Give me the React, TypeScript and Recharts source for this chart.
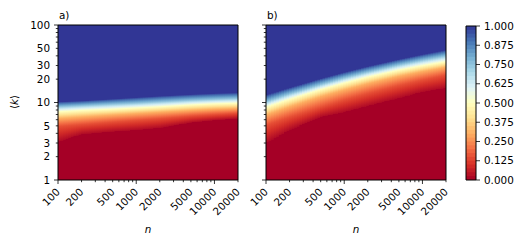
import React from 'react';
import { ComposedChart, XAxis, YAxis, ReferenceArea } from 'recharts';

const nAnchors = [100, 200, 500, 1000, 2000, 5000, 10000, 20000];
// fraction level of each curve (rows of the kLevels tables)
const levelValues = [0.02, 0.15, 0.3, 0.5, 0.75, 0.98];

// panel a): <k> where the fraction reaches each level, per n anchor
const kLevelsA = [
  [3.1, 3.9, 4.2, 4.4, 4.7, 5.5, 5.9, 6.2],
  [4.9, 5.2, 5.6, 5.9, 6.2, 6.7, 7.0, 7.3],
  [6.2, 6.5, 6.9, 7.2, 7.5, 7.9, 8.2, 8.4],
  [7.6, 7.9, 8.2, 8.5, 8.8, 9.3, 9.6, 9.8],
  [8.8, 9.1, 9.5, 9.8, 10.2, 10.7, 11.0, 11.3],
  [10.2, 10.5, 11.1, 11.6, 12.1, 12.7, 13.1, 13.4],
];

// panel b)
const kLevelsB = [
  [3.0, 4.4, 6.5, 7.5, 9.0, 11.4, 13.7, 15.4],
  [5.1, 6.5, 8.7, 10.8, 13.1, 16.6, 19.5, 22.6],
  [6.9, 8.8, 11.9, 14.5, 17.5, 21.8, 25.1, 28.5],
  [8.7, 11.0, 14.7, 17.8, 21.3, 26.2, 29.9, 33.6],
  [10.2, 12.9, 17.0, 20.7, 24.7, 30.5, 35.1, 39.8],
  [12.5, 15.5, 20.3, 24.5, 29.2, 36.0, 41.6, 47.6],
];

const nTicks = [100, 200, 300, 400, 500, 600, 700, 800, 900, 1000, 2000, 3000, 4000, 5000, 6000, 7000, 8000, 9000, 10000, 20000];
const nLabels = [100, 200, 500, 1000, 2000, 5000, 10000, 20000];
const kTicks = [1, 2, 3, 4, 5, 6, 7, 8, 9, 10, 20, 30, 40, 50, 60, 70, 80, 90, 100];
const kLabels = [1, 2, 3, 5, 10, 20, 30, 50, 100];
const cbarTicks = [0, 0.125, 0.25, 0.375, 0.5, 0.625, 0.75, 0.875, 1];

const rdylbu = ['#a50026', '#d73027', '#f46d43', '#fdae61', '#fee090', '#ffffbf', '#e0f3f8', '#abd9e9', '#74add1', '#4575b4', '#313695'];

const FONT = '"DejaVu Sans", sans-serif';
const FS = 10.4;
const COLS = 70;
const CBAR_BANDS = 40;

const hexToRgb = (h: string) => [1, 3, 5].map((i) => parseInt(h.slice(i, i + 2), 16));

function cmap(v: number) {
  const t = Math.max(0, Math.min(1, v)) * (rdylbu.length - 1);
  const i = Math.min(Math.floor(t), rdylbu.length - 2);
  const f = t - i;
  const a = hexToRgb(rdylbu[i]);
  const b = hexToRgb(rdylbu[i + 1]);
  const c = a.map((x, j) => Math.round(x + (b[j] - x) * f));
  return `rgb(${c[0]},${c[1]},${c[2]})`;
}

// log k of every level curve at a given log n (linear between anchors, in log-log)
function curvesAt(levels: number[][], logN: number) {
  const ln = nAnchors.map(Math.log10);
  let i = 0;
  while (i < ln.length - 2 && logN > ln[i + 1]) i++;
  const f = (logN - ln[i]) / (ln[i + 1] - ln[i]);
  return levels.map((row) => {
    const a = Math.log10(row[i]);
    const b = Math.log10(row[i + 1]);
    return a + (b - a) * f;
  });
}

function buildColumns(levels: number[][], id: string) {
  const lo = Math.log10(nAnchors[0]);
  const hi = Math.log10(nAnchors[nAnchors.length - 1]);
  const step = (hi - lo) / COLS;
  const cols = [];
  for (let c = 0; c < COLS; c++) {
    const b0 = lo + c * step;
    const b1 = b0 + step;
    const lk = curvesAt(levels, (b0 + b1) / 2);
    // (value, log k) pairs from the top of the panel down
    const pts: [number, number][] = [[1, 2], [1, lk[lk.length - 1]]];
    for (let j = lk.length - 1; j > 0; j--) {
      const va = levelValues[j], vb = levelValues[j - 1];
      for (let s = 1; s <= 4; s++) {
        const f = s / 4;
        pts.push([va + (vb - va) * f, lk[j] + (lk[j - 1] - lk[j]) * f]);
      }
    }
    pts.push([0, lk[0]], [0, 0]);
    cols.push({
      id: `${id}-${c}`,
      x1: Math.pow(10, b0),
      x2: Math.pow(10, c < COLS - 1 ? b1 + step * 0.4 : b1),
      stops: pts.map(([v, l]) => ({ offset: Math.max(0, Math.min(1, 1 - l / 2)), color: cmap(v) })),
    });
  }
  return cols;
}

const isDecade = (v: number) => Math.abs(Math.log10(v) - Math.round(Math.log10(v))) < 1e-9;

const XTick = (props: any) => {
  const { x, y, payload } = props;
  const v = payload.value;
  const len = isDecade(v) ? 4 : 2.2;
  const px = x - 3;
  const py = y + 7;
  return (
    <g>
      <line x1={x} y1={y} x2={x} y2={y + len} stroke="#000" strokeWidth={0.8} />
      {nLabels.includes(v) && (
        <text x={px} y={py} transform={`rotate(-45 ${px} ${py})`} textAnchor="end" dominantBaseline="hanging"
          fontFamily={FONT} fontSize={FS} fill="#000">{v}</text>
      )}
    </g>
  );
};

const makeYTick = (showLabels: boolean) => (props: any) => {
  const { x, y, payload } = props;
  const v = payload.value;
  const len = isDecade(v) ? 4 : 2.2;
  return (
    <g>
      <line x1={x - len} y1={y} x2={x} y2={y} stroke="#000" strokeWidth={0.8} />
      {showLabels && kLabels.includes(v) && (
        <text x={x - 8} y={y} dy="0.36em" textAnchor="end" fontFamily={FONT} fontSize={FS} fill="#000">{v}</text>
      )}
    </g>
  );
};

const CbarTick = (props: any) => {
  const { x, y, payload } = props;
  return (
    <g>
      <line x1={x} y1={y} x2={x + 4} y2={y} stroke="#000" strokeWidth={0.8} />
      <text x={x + 8} y={y} dy="0.36em" textAnchor="start" fontFamily={FONT} fontSize={FS} fill="#000">
        {Number(payload.value).toFixed(3)}
      </text>
    </g>
  );
};

interface PanelProps {
  id: string;
  title: string;
  levels: number[][];
  width: number;
  marginLeft: number;
  yWidth: number;
  showYLabels: boolean;
}

const Panel = ({ id, title, levels, width, marginLeft, yWidth, showYLabels }: PanelProps) => {
  const cols = buildColumns(levels, id);
  const plotLeft = marginLeft + yWidth;
  return (
    <ComposedChart width={width} height={244} margin={{ top: 25, right: width - plotLeft - 180, bottom: 24, left: marginLeft }}>
      <defs>
        {cols.map((c) => (
          <linearGradient key={c.id} id={c.id} x1="0" y1="0" x2="0" y2="1">
            {c.stops.map((s, i) => (
              <stop key={i} offset={s.offset} stopColor={s.color} />
            ))}
          </linearGradient>
        ))}
      </defs>
      <XAxis type="number" dataKey="n" scale="log" domain={[100, 20000]} allowDataOverflow ticks={nTicks} interval={0}
        height={40} tickSize={0} tickMargin={0} tickLine={false} axisLine={false} tick={<XTick />} />
      <YAxis type="number" dataKey="k" scale="log" domain={[1, 100]} allowDataOverflow ticks={kTicks} interval={0}
        width={yWidth} tickSize={0} tickMargin={0} tickLine={false} axisLine={false} tick={makeYTick(showYLabels)} />
      {cols.map((c) => (
        <ReferenceArea key={c.id} x1={c.x1} x2={c.x2} y1={1} y2={100} fill={`url(#${c.id})`} fillOpacity={1}
          stroke="none" />
      ))}
      <ReferenceArea x1={100} x2={20000} y1={1} y2={100} fill="none" stroke="#000" strokeWidth={1} />
      <text x={plotLeft + 1} y={19} fontFamily={FONT} fontSize={FS} fill="#000">{title}</text>
      <text x={plotLeft + 90} y={233} textAnchor="middle" fontFamily={FONT} fontSize={FS} fontStyle="italic" fill="#000">n</text>
      {showYLabels && (
        <text x={18} y={102} transform="rotate(-90 18 102)" textAnchor="middle" fontFamily={FONT} fontSize={FS} fill="#000">
          ⟨<tspan fontStyle="italic">k</tspan>⟩
        </text>
      )}
    </ComposedChart>
  );
};

const Colorbar = () => {
  const bands = Array.from({ length: CBAR_BANDS }, (_, i) => i);
  return (
    <ComposedChart width={88} height={244} margin={{ top: 26, right: 12, bottom: 64, left: 26 }}>
      <XAxis type="number" dataKey="x" domain={[0, 1]} allowDataOverflow hide />
      <YAxis type="number" dataKey="v" orientation="right" domain={[0, 1]} allowDataOverflow ticks={cbarTicks} interval={0}
        width={40} tickSize={0} tickMargin={0} tickLine={false} axisLine={false} tick={<CbarTick />} />
      {bands.map((i) => (
        <ReferenceArea key={i} x1={0} x2={1} y1={i / CBAR_BANDS}
          y2={i < CBAR_BANDS - 1 ? (i + 1.4) / CBAR_BANDS : 1}
          fill={cmap((i + 0.5) / CBAR_BANDS)} fillOpacity={1} stroke="none" />
      ))}
      <ReferenceArea x1={0} x2={1} y1={0} y2={1} fill="none" stroke="#000" strokeWidth={1} />
    </ComposedChart>
  );
};

export default function App() {
  return (
    <div style={{ position: 'absolute', left: 0, top: 0, width: 528, height: 244, background: '#fff' }}>
      <div style={{ position: 'absolute', left: 0, top: 0 }}>
        <Panel id="ga" title="a)" levels={kLevelsA} width={252} marginLeft={18} yWidth={40} showYLabels />
      </div>
      <div style={{ position: 'absolute', left: 230, top: 0 }}>
        <Panel id="gb" title="b)" levels={kLevelsB} width={220} marginLeft={26} yWidth={10} showYLabels={false} />
      </div>
      <div style={{ position: 'absolute', left: 440, top: 0 }}>
        <Colorbar />
      </div>
    </div>
  );
}
